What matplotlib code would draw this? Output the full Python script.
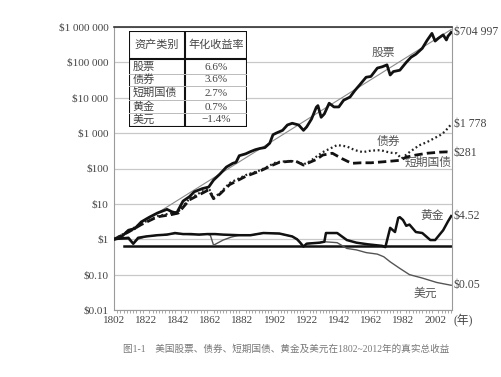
import numpy as np
import matplotlib.pyplot as plt
from matplotlib.ticker import FixedLocator, MultipleLocator

# 股票、债券、短期国债、黄金、美元 real total return, $1 invested in 1802

stock_years = [1802, 1806, 1811, 1815, 1819, 1824, 1829, 1835, 1838, 1841, 1845, 1849,
               1852, 1857, 1861, 1864, 1868, 1872, 1876, 1878, 1880, 1884, 1887, 1890,
               1893, 1896, 1899, 1901, 1903, 1907, 1910, 1913, 1917, 1920, 1922, 1925,
               1928, 1929, 1931, 1933, 1936, 1939, 1942, 1945, 1949, 1952, 1955, 1959,
               1962, 1966, 1969, 1972, 1974, 1976, 1980, 1984, 1987, 1990, 1994, 1997,
               2000, 2002, 2004, 2007, 2009, 2010, 2012]
stock_vals = [1.0, 1.1, 1.8, 2.0, 3.1, 4.2, 5.5, 7.0, 6.0, 5.5, 12, 16,
              22, 27, 30, 47, 70, 110, 140, 150, 230, 260, 300, 340,
              370, 390, 520, 900, 1000, 1200, 1700, 1900, 1700, 1200, 1500, 2500,
              5400, 6000, 2800, 3500, 7000, 5500, 5500, 8500, 10500, 16000, 23000, 38000,
              40000, 69000, 75000, 85000, 44000, 55000, 60000, 100000, 140000, 170000, 250000, 420000,
              660000, 400000, 480000, 600000, 430000, 550000, 704997]

bond_years = [1802, 1811, 1819, 1829, 1838, 1842, 1849, 1855, 1861, 1864, 1868, 1874,
              1884, 1893, 1903, 1912, 1917, 1920, 1924, 1932, 1941, 1947, 1952, 1957,
              1962, 1968, 1974, 1978, 1981, 1986, 1992, 1997, 2005, 2008, 2012]
bond_vals = [1.0, 1.7, 2.8, 4.5, 5.5, 6, 14, 20, 28, 15, 20, 39,
             65, 89, 150, 165, 150, 130, 160, 290, 460, 420, 330, 290,
             320, 330, 280, 270, 190, 290, 450, 560, 870, 1100, 1778]

bill_years = [1802, 1811, 1819, 1829, 1838, 1842, 1849, 1855, 1861, 1864, 1868, 1874,
              1884, 1893, 1899, 1905, 1912, 1916, 1920, 1924, 1928, 1932, 1938, 1944,
              1950, 1956, 1962, 1970, 1980, 1984, 1990, 1997, 2005, 2009, 2012]
bill_vals = [1.0, 1.6, 2.6, 4.3, 5.0, 5.5, 13, 18, 25, 14, 19, 35,
             60, 85, 115, 150, 160, 155, 125, 150, 180, 240, 270, 190,
             140, 145, 145, 155, 170, 210, 240, 270, 290, 295, 281]

gold_years = [1802, 1806, 1811, 1814, 1817, 1822, 1829, 1835, 1840, 1845, 1850, 1855,
              1860, 1865, 1870, 1880, 1887, 1895, 1905, 1913, 1916, 1918, 1920, 1922,
              1930, 1933, 1934, 1941, 1947, 1953, 1960, 1969, 1971, 1974, 1977, 1979,
              1980, 1982, 1984, 1986, 1990, 1994, 1999, 2002, 2007, 2010, 2012]
gold_vals = [1.0, 1.05, 1.1, 0.75, 1.1, 1.2, 1.3, 1.35, 1.5, 1.4, 1.4, 1.35,
             1.4, 1.4, 1.35, 1.3, 1.3, 1.5, 1.45, 1.2, 1.0, 0.8, 0.62, 0.75,
             0.8, 0.85, 1.5, 1.5, 0.95, 0.8, 0.72, 0.65, 0.6, 2.1, 1.6, 4.0,
             4.2, 3.5, 2.4, 2.6, 1.6, 1.5, 0.95, 0.95, 1.8, 3.2, 4.52]

usd_years = [1802, 1811, 1814, 1817, 1822, 1829, 1840, 1850, 1860, 1862, 1864, 1870,
             1875, 1880, 1887, 1895, 1905, 1913, 1916, 1918, 1920, 1922, 1930, 1933,
             1941, 1947, 1953, 1959, 1966, 1970, 1974, 1980, 1986, 1994, 2003, 2012]
usd_vals = [1.0, 1.0, 0.72, 1.0, 1.2, 1.3, 1.45, 1.35, 1.4, 1.3, 0.68, 0.95,
            1.15, 1.3, 1.3, 1.5, 1.45, 1.2, 1.0, 0.8, 0.62, 0.75, 0.8, 0.85,
            0.8, 0.55, 0.5, 0.42, 0.38, 0.32, 0.23, 0.15, 0.10, 0.08, 0.06, 0.05]

trend_years = [1802, 2012]
trend_vals = [0.95, 850000]

base_years = [1808, 2012]
base_vals = [0.65, 0.65]

end_labels = ['$704 997', '$1 778', '$281', '$4.52', '$0.05']
end_vals = [704997, 1778, 281, 4.52, 0.05]

ytick_vals = [0.01, 0.1, 1, 10, 100, 1000, 10000, 100000, 1000000]
ytick_labels = ['$0.01', '$0.10', '$1', '$10', '$100', '$1 000', '$10 000',
                '$100 000', '$1 000 000']
xtick_years = [1802, 1822, 1842, 1862, 1882, 1902, 1922, 1942, 1962, 1982, 2002]

table_header = ['资产类别', '年化收益率']
table_assets = ['股票', '债券', '短期国债', '黄金', '美元']
table_rates = ['6.6%', '3.6%', '2.7%', '0.7%', '\u22121.4%']

plt.rcParams['font.family'] = ['Liberation Serif', 'Noto Sans CJK SC']
plt.rcParams['text.parse_math'] = False

fig = plt.figure(figsize=(5.02, 3.77), dpi=100)
ax = fig.add_axes([114/502, 1-310/377, 338/502, 283/377])

ax.plot(trend_years, trend_vals, color='#8a8a8a', lw=0.8, zorder=3)
ax.plot(base_years, base_vals, color='#111111', lw=1.8, zorder=2)
ax.plot(usd_years, usd_vals, color='#555555', lw=1.0, zorder=3)
ax.plot(gold_years, gold_vals, color='#111111', lw=1.8, zorder=4)
ax.plot(bill_years, bill_vals, color='#111111', lw=2.0, ls=(0, (3, 1.5)), zorder=4)
ax.plot(bond_years, bond_vals, color='#222222', lw=1.6, ls=(0, (0.8, 1.2)), zorder=4)
ax.plot(stock_years, stock_vals, color='#111111', lw=2.0, zorder=5)

ax.set_yscale('log')
ax.set_ylim(0.01, 1000000)
ax.set_xlim(1802, 2012.5)
ax.yaxis.set_major_locator(FixedLocator(ytick_vals))
ax.set_yticks(ytick_vals, ytick_labels)
ax.yaxis.set_minor_locator(FixedLocator([]))
ax.set_xticks(xtick_years)
ax.xaxis.set_minor_locator(MultipleLocator(2))
ax.tick_params(axis='both', labelsize=8, colors='#444444', length=0, pad=4)
ax.tick_params(axis='x', which='minor', length=2, color='#999999')
ax.grid(axis='y', color='#c8c8c8', lw=0.9)
for side in ['left', 'bottom', 'right']:
    ax.spines[side].set_color('#9a9a9a')
ax.spines['top'].set_color('#333333')
ax.spines['top'].set_linewidth(1.2)

for lab, v in zip(end_labels, end_vals):
    ax.annotate(lab, (2012, v), xytext=(2, 0), textcoords='offset points',
                ha='left', va='center', fontsize=8.5, color='#444444',
                annotation_clip=False)

ax.text(1969.5, 182000, '股票', fontsize=8.5, color='#555555', ha='center', va='center')
ax.text(1972.6, 560, '债券', fontsize=8.5, color='#555555', ha='center', va='center')
ax.text(1997.5, 141, '短期国债', fontsize=8.5, color='#555555', ha='center', va='center')
ax.text(2000, 4.5, '黄金', fontsize=8.5, color='#555555', ha='center', va='center')
ax.text(1995.6, 0.028, '美元', fontsize=8.5, color='#555555', ha='center', va='center')

fig.text(463/502, 1-321/377, '(年)', fontsize=8.5, color='#444444', ha='center', va='center')
fig.text(123/502, 1-349/377,
         '图1-1\u3000美国股票、债券、短期国债、黄金及美元在1802~2012年的真实总收益',
         fontsize=6.9, color='#777777', ha='left', va='center')

# table inset
tax = fig.add_axes([129/502, 1-127/377, 118/502, 96/377])
tax.set_xlim(0, 1)
tax.set_ylim(0, 1)
tax.axis('off')
tax.add_patch(plt.Rectangle((0, 0), 1, 1, facecolor='white', edgecolor='#111111', lw=1.5))
tax.plot([0, 1], [0.708, 0.708], color='#111111', lw=1.5)
tax.plot([0.475, 0.475], [0, 1], color='#111111', lw=1.5)
for yy in [0.557, 0.422, 0.281, 0.141]:
    tax.plot([0, 1], [yy, yy], color='#bbbbbb', lw=0.7)
tax.text(0.237, 0.854, table_header[0], fontsize=8, color='#444444', ha='center', va='center')
tax.text(0.737, 0.854, table_header[1], fontsize=8, color='#444444', ha='center', va='center')
row_y = [0.625, 0.49, 0.354, 0.208, 0.073]
for yy, a, r in zip(row_y, table_assets, table_rates):
    tax.text(0.03, yy, a, fontsize=8, color='#444444', ha='left', va='center')
    tax.text(0.737, yy, r, fontsize=8, color='#444444', ha='center', va='center')

fig.savefig('out.png', dpi=100)
